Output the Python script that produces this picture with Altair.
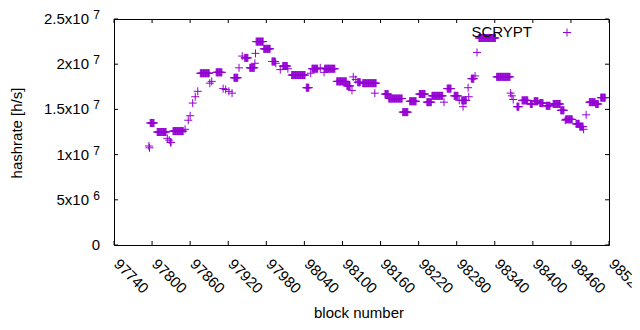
import altair as alt
import pandas as pd

# ---- data (runs of consecutive blocks with the same hashrate, in 1e6 h/s) ----
seg_start = [97795, 97796, 97797, 97808, 97824, 97827, 97829, 97833, 97852, 97857, 97860, 97864, 97868, 97872,
             97876, 97891, 97894, 97901, 97912, 97916, 97921, 97926, 97929, 97937, 97942, 97946, 97954, 97962,
             97963, 97964, 97976, 97989, 97995, 98002, 98006, 98014, 98020, 98043, 98050, 98052, 98065, 98071,
             98072, 98091, 98107, 98115, 98117, 98121, 98124, 98132, 98151, 98167, 98173, 98195, 98206, 98221,
             98233, 98241, 98260, 98265, 98276, 98284, 98288, 98290, 98298, 98299, 98303, 98309, 98312, 98315,
             98343, 98365, 98367, 98369, 98375, 98383, 98396, 98402, 98411, 98421, 98432, 98444, 98451, 98452,
             98468, 98474, 98480, 98484, 98489, 98499, 98507]
seg_end = [97795, 97796, 97803, 97822, 97824, 97827, 97830, 97849, 97852, 97857, 97860, 97864, 97868, 97872,
           97890, 97891, 97894, 97910, 97912, 97916, 97921, 97926, 97935, 97937, 97942, 97951, 97961, 97962,
           97963, 97975, 97986, 97994, 97995, 98002, 98013, 98014, 98041, 98047, 98050, 98061, 98065, 98071,
           98088, 98106, 98112, 98115, 98117, 98121, 98128, 98153, 98151, 98172, 98194, 98203, 98216, 98230,
           98240, 98258, 98260, 98271, 98282, 98284, 98295, 98290, 98298, 98299, 98307, 98309, 98312, 98341,
           98364, 98365, 98367, 98369, 98378, 98392, 98399, 98408, 98416, 98427, 98443, 98449, 98451, 98462,
           98473, 98479, 98480, 98484, 98498, 98503, 98514]
seg_value = [10.95, 10.75, 13.5, 12.5, 11.8, 11.6, 11.35, 12.6, 12.8, 13.8, 14.3, 15.7, 16.4, 17.0,
             19.0, 17.9, 18.1, 19.1, 17.3, 17.2, 17.0, 16.8, 18.5, 19.6, 20.9, 20.7, 19.6, 20.1,
             21.2, 22.5, 21.7, 20.3, 20.1, 19.4, 19.8, 19.5, 18.8, 17.4, 19.0, 19.5, 19.6, 19.1,
             19.5, 18.1, 17.6, 17.1, 18.6, 18.3, 18.0, 17.9, 16.8, 16.7, 16.2, 14.7, 15.9, 16.7,
             15.8, 16.5, 15.8, 17.3, 16.5, 16.0, 16.0, 15.3, 17.4, 16.4, 18.4, 18.7, 21.3, 22.9,
             18.6, 16.8, 16.5, 16.1, 15.3, 16.0, 15.6, 15.9, 15.7, 15.4, 15.6, 14.9, 13.8, 13.9,
             13.4, 13.1, 12.8, 14.4, 15.8, 15.6, 16.3]

x_ticks = [97740, 97800, 97860, 97920, 97980, 98040, 98100, 98160, 98220, 98280, 98340, 98400, 98460, 98520]
y_ticks = [0, 5e6, 1e7, 1.5e7, 2e7, 2.5e7]
y_tick_base = ["0", "5x10", "1x10", "1.5x10", "2x10", "2.5x10"]
y_tick_exp = ["", "6", "7", "7", "7", "7"]
legend_label = ["SCRYPT"]
x_title = ["block number"]
y_title = ["hashrate [h/s]"]

rows = []
for s, e, v in zip(seg_start, seg_end, seg_value):
    for b in range(s, e + 1):
        rows.append({"block": b, "hashrate": v * 1e6})
df = pd.DataFrame(rows)

W, H = 495, 226
FONT = "Liberation Sans"
PURPLE = "#9400D3"
PLUS = "M-1,0L1,0M0,-1L0,1"

xaxis = alt.Axis(values=x_ticks, labelAngle=45, labelAlign="left", labelBaseline="top", labelPadding=11,
                 labelOffset=7, tickSize=0, labelFlush=False, labelOverlap=False, labelBound=False,
                 ticks=False, domain=False, grid=False, title=None, labelFont=FONT, labelFontSize=15,
                 labelColor="black", format="d")
X = alt.X("block:Q", scale=alt.Scale(domain=[97740, 98520], nice=False, zero=False), axis=xaxis)
Y = alt.Y("hashrate:Q", scale=alt.Scale(domain=[0, 2.5e7], nice=False, zero=False), axis=None)

points = alt.Chart(df).mark_point(shape=PLUS, size=64, filled=False, strokeWidth=1, color=PURPLE,
                                  opacity=1).encode(x=X, y=Y)

xt = pd.DataFrame({"block": x_ticks})
yt = pd.DataFrame({"hashrate": y_ticks, "base": y_tick_base, "exp": y_tick_exp})

tick_b = alt.Chart(xt).mark_rule(color="black", strokeWidth=1).encode(x=X, y=alt.value(H), y2=alt.value(H - 4))
tick_t = alt.Chart(xt).mark_rule(color="black", strokeWidth=1).encode(x=X, y=alt.value(0), y2=alt.value(4))
tick_l = alt.Chart(yt).mark_rule(color="black", strokeWidth=1).encode(y=Y, x=alt.value(0), x2=alt.value(4))
tick_r = alt.Chart(yt).mark_rule(color="black", strokeWidth=1).encode(y=Y, x=alt.value(W), x2=alt.value(W - 4))

ylab_base = alt.Chart(yt).transform_filter("datum.exp != ''").mark_text(
    align="right", baseline="middle", font=FONT, fontSize=15, color="black").encode(
    y=Y, x=alt.value(-25), text="base:N")
ylab_exp = alt.Chart(yt).transform_filter("datum.exp != ''").mark_text(
    align="right", baseline="middle", font=FONT, fontSize=12, color="black", dy=-4).encode(
    y=Y, x=alt.value(-14), text="exp:N")
ylab_zero = alt.Chart(yt).transform_filter("datum.exp == ''").mark_text(
    align="right", baseline="middle", font=FONT, fontSize=15, color="black").encode(
    y=Y, x=alt.value(-14), text="base:N")

xtitle = alt.Chart(pd.DataFrame({"t": x_title})).mark_text(
    align="center", baseline="middle", font=FONT, fontSize=15, color="black").encode(
    x=alt.value(245), y=alt.value(294), text="t:N")
ytitle = alt.Chart(pd.DataFrame({"t": y_title})).mark_text(
    align="center", baseline="middle", font=FONT, fontSize=15, color="black", angle=270).encode(
    x=alt.value(-97), y=alt.value(114), text="t:N")

leg_text = alt.Chart(pd.DataFrame({"t": legend_label})).mark_text(
    align="right", baseline="middle", font=FONT, fontSize=15, color="black").encode(
    x=alt.value(418), y=alt.value(13), text="t:N")
leg_sym = alt.Chart(pd.DataFrame({"t": legend_label})).mark_point(
    shape=PLUS, size=64, filled=False, strokeWidth=1, color=PURPLE, opacity=1).encode(
    x=alt.value(453), y=alt.value(13.5))

chart = alt.layer(points, tick_b, tick_t, tick_l, tick_r, ylab_base, ylab_exp, ylab_zero,
                  xtitle, ytitle, leg_text, leg_sym).properties(
    width=W, height=H,
    autosize=alt.AutoSizeParams(type="none"),
    padding={"left": 106, "top": 11, "right": 23, "bottom": 76},
    background="white",
).configure_view(stroke="black", strokeWidth=1)

chart.save("out.html", embed_options={"renderer": "svg", "actions": False})
